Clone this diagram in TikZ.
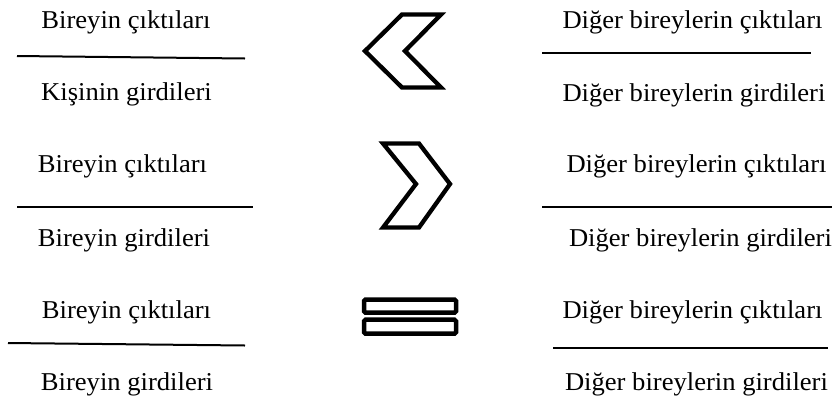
\documentclass[tikz,border=0pt]{standalone}
\usepackage{fontspec}
\setmainfont[FakeStretch=1.035]{Liberation Serif}

\tikzset{
  % ----- the texts of the two ratios
  ratio/.style={
    anchor=base, inner sep=0pt, font=\fontsize{25.7}{30}\selectfont
  },
  % ----- the fraction bars
  bar/.style = {line width=2pt},
  % ----- the comparison signs
  sign/.style = {draw=black, fill=white, line width=4.3pt, miter limit=10},
  eqsign/.style = {draw=black, fill=white, line width=4.5pt, rounded corners=1.5pt}
}

\begin{document}
\begin{tikzpicture}[
                x = 1pt, % one unit is one pixel
                y = -1pt % counting downwards
            ]
        \useasboundingbox (0,0) rectangle (835,405);

        % left side: the individual
        \foreach \n/\x/\y/\txt in {1/126/28.5/Bireyin çıktıları,
                                   2/126.5/100.5/Kişinin girdileri,
                                   3/122.5/172.5/Bireyin çıktıları,
                                   4/124/246/Bireyin girdileri,
                                   5/126.5/318.5/Bireyin çıktıları,
                                   6/127/390.5/Bireyin girdileri}{
            \node[ratio] (L\n) at (\x,\y) {\txt};
        }

        % right side: the others
        \foreach \n/\x/\y/\txt in {1/692.5/28.5/çıktıları,
                                   2/694/101.5/girdileri,
                                   3/696.5/172.5/çıktıları,
                                   4/700.5/246.5/girdileri,
                                   5/692.5/318.5/çıktıları,
                                   6/696.5/390.5/girdileri}{
            \node[ratio] (R\n) at (\x,\y) {Diğer bireylerin \txt};
        }

        % fraction bars
        \draw[bar] (17,56) -- (245,58.5);
        \draw[bar] (17,207.3) -- (253,207.3);
        \draw[bar] (8,343) -- (245,345.5);
        \draw[bar] (542,52.7) -- (811,52.7);
        \draw[bar] (542,207.3) -- (832,207.3);
        \draw[bar] (553,348.3) -- (828,348.3);

        % less than
        \draw[sign] (402,14.5) -- (441,14.5) -- (405,51) -- (441,87.5)
            -- (402,87.5) -- (365,51) -- cycle;
        % greater than
        \draw[sign] (383,143.5) -- (419,143.5) -- (450,184) -- (419,227.5)
            -- (383,227.5) -- (416,184) -- cycle;
        % equal
        \draw[eqsign] (364,299.5) rectangle (456,312.7);
        \draw[eqsign] (364,319.7) rectangle (456,333.7);
    \end{tikzpicture}
\end{document}
